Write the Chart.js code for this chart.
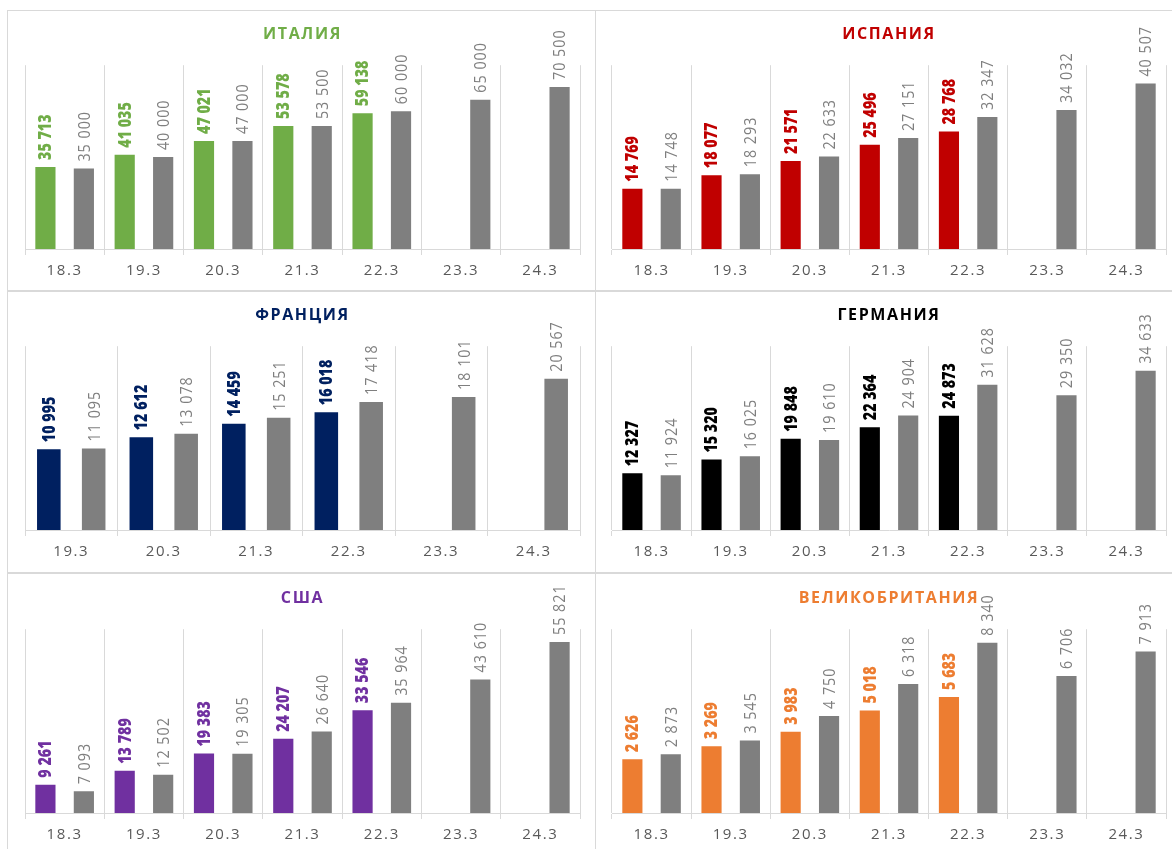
<!DOCTYPE html>
<html>
<head>
<meta charset="utf-8">
<script src="https://cdn.jsdelivr.net/npm/chart.js@4.4.1/dist/chart.umd.min.js"></script>
<style>
  html, body { margin: 0; padding: 0; background: #ffffff; }
  body { width: 1172px; height: 849px; overflow: hidden; position: relative; font-family: 'Open Sans', sans-serif; }
  .ln { position: absolute; background: #d9d9d9; }
  canvas { position: absolute; }
</style>
</head>
<body>
<div class="ln" style="left:7px;top:10px;width:1165px;height:1px"></div>
<div class="ln" style="left:7px;top:290px;width:1165px;height:2px"></div>
<div class="ln" style="left:7px;top:572px;width:1165px;height:2px"></div>
<div class="ln" style="left:7px;top:10px;width:1px;height:839px"></div>
<div class="ln" style="left:595px;top:10px;width:1px;height:839px"></div>

<canvas id="c0" width="588" height="280" style="left:8px;top:11px"></canvas>
<canvas id="c1" width="576" height="280" style="left:596px;top:11px"></canvas>
<canvas id="c2" width="588" height="280" style="left:8px;top:292px"></canvas>
<canvas id="c3" width="576" height="280" style="left:596px;top:292px"></canvas>
<canvas id="c4" width="588" height="280" style="left:8px;top:575px"></canvas>
<canvas id="c5" width="576" height="280" style="left:596px;top:575px"></canvas>

<script>
// ---------- DATA ----------
const days = ['18.3', '19.3', '20.3', '21.3', '22.3', '23.3', '24.3'];
const daysFrance = ['19.3', '20.3', '21.3', '22.3', '23.3', '24.3'];

const titles = ['ИТАЛИЯ', 'ИСПАНИЯ', 'ФРАНЦИЯ', 'ГЕРМАНИЯ', 'США', 'ВЕЛИКОБРИТАНИЯ'];

const italyActual   = [35713, 41035, 47021, 53578, 59138, null, null];
const italyForecast = [35000, 40000, 47000, 53500, 60000, 65000, 70500];

const spainActual   = [14769, 18077, 21571, 25496, 28768, null, null];
const spainForecast = [14748, 18293, 22633, 27151, 32347, 34032, 40507];

const franceActual   = [10995, 12612, 14459, 16018, null, null];
const franceForecast = [11095, 13078, 15251, 17418, 18101, 20567];

const germanyActual   = [12327, 15320, 19848, 22364, 24873, null, null];
const germanyForecast = [11924, 16025, 19610, 24904, 31628, 29350, 34633];

const usaActual   = [9261, 13789, 19383, 24207, 33546, null, null];
const usaForecast = [7093, 12502, 19305, 26640, 35964, 43610, 55821];

const ukActual   = [2626, 3269, 3983, 5018, 5683, null, null];
const ukForecast = [2873, 3545, 4750, 6318, 8340, 6706, 7913];

const axisMax = [80000, 45000, 25000, 40000, 60000, 9000];

// ---------- STYLE ----------
const countryColors = ['#70ad47', '#c00000', '#002060', '#000000', '#7030a0', '#ed7d31'];
const forecastColor = '#7f7f7f';
const FONT = "'Open Sans', sans-serif";

function fmt(v) {
  return String(v).replace(/\B(?=(\d{3})+(?!\d))/g, ' ');
}

const spacingPlugin = {
  id: 'spacing',
  beforeDraw(chart) { chart.ctx.letterSpacing = '1.6px'; }
};

const valueLabels = {
  id: 'valueLabels',
  afterDatasetsDraw(chart) {
    const ctx = chart.ctx;
    chart.data.datasets.forEach((ds, di) => {
      const meta = chart.getDatasetMeta(di);
      meta.data.forEach((bar, i) => {
        const v = ds.data[i];
        if (v === null || v === undefined) return;
        ctx.save();
        ctx.translate(bar.x + 1, bar.y - 7);
        ctx.rotate(-Math.PI / 2);
        ctx.scale(0.84, 1);
        ctx.letterSpacing = ds.labelBold ? '0px' : '1.2px';
        ctx.font = (ds.labelBold ? '800 ' : '') + '17px ' + FONT;
        ctx.fillStyle = ds.labelColor;
        ctx.textAlign = 'left';
        ctx.textBaseline = 'middle';
        ctx.fillText(fmt(v), 0, 0);
        ctx.restore();
      });
    });
  }
};

const panels = [
  { labels: days,       actual: italyActual,   forecast: italyForecast,   left: 17, right: 16 },
  { labels: days,       actual: spainActual,   forecast: spainForecast,   left: 16, right: 6 },
  { labels: daysFrance, actual: franceActual,  forecast: franceForecast,  left: 17, right: 16 },
  { labels: days,       actual: germanyActual, forecast: germanyForecast, left: 16, right: 6 },
  { labels: days,       actual: usaActual,     forecast: usaForecast,     left: 17, right: 16 },
  { labels: days,       actual: ukActual,      forecast: ukForecast,      left: 16, right: 6 }
];

panels.forEach((p, k) => {
  const color = countryColors[k];
  new Chart(document.getElementById('c' + k), {
    type: 'bar',
    data: {
      labels: p.labels,
      datasets: [
        { data: p.actual, backgroundColor: color, labelColor: color, labelBold: true,
          categoryPercentage: 0.97, barPercentage: 0.525 },
        { data: p.forecast, backgroundColor: forecastColor, labelColor: forecastColor, labelBold: false,
          categoryPercentage: 0.97, barPercentage: 0.525 }
      ]
    },
    options: {
      responsive: false,
      animation: false,
      events: [],
      layout: { padding: { top: 0, bottom: 4, left: p.left, right: p.right } },
      plugins: {
        legend: { display: false },
        tooltip: { enabled: false },
        title: {
          display: true,
          text: titles[k],
          color: color,
          font: { family: FONT, size: 16, weight: 'bold', lineHeight: 1.2 },
          padding: { top: 14, bottom: 21 }
        }
      },
      scales: {
        x: {
          offset: true,
          grid: { display: true, offset: true, color: '#d9d9d9', lineWidth: 1, tickLength: 6, drawTicks: true },
          border: { display: true, color: '#d9d9d9', width: 1 },
          ticks: { color: '#595959', font: { family: FONT, size: 15 }, padding: 7, maxRotation: 0, autoSkip: false }
        },
        y: { display: false, min: 0, max: axisMax[k] }
      }
    },
    plugins: [spacingPlugin, valueLabels]
  });
});
</script>
</body>
</html>
